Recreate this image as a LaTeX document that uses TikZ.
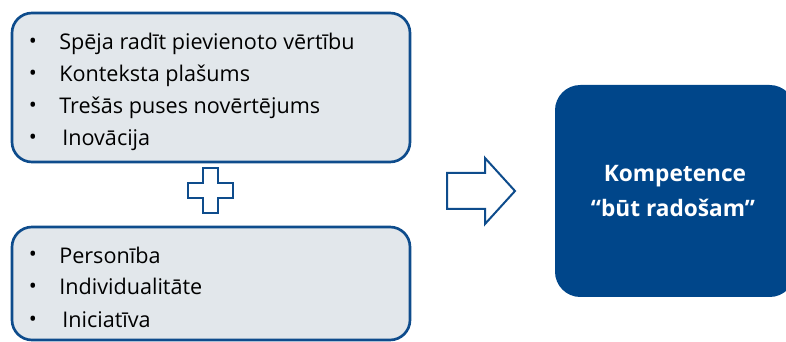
\documentclass[tikz,border=0pt]{standalone}
\usepackage{fontspec}
\setmainfont{Open Sans}
\usetikzlibrary{shapes.arrows}
\definecolor{frameblue}{HTML}{0E4C8C}
\definecolor{panelgray}{HTML}{E2E7EB}
\definecolor{deepblue}{HTML}{00468A}
\tikzset{
  panel/.style={draw=frameblue, line width=2pt, fill=panelgray, rounded corners=15pt},
  item/.style={anchor=base west, inner sep=0pt, font=\fontsize{16.2}{18}\selectfont},
  dot/.style={anchor=base, inner sep=0pt, font=\fontsize{16}{18}\selectfont},
  outline/.style={draw=frameblue, line width=1.5pt, fill=white},
  title/.style={anchor=base, text=white, inner sep=0pt, font=\bfseries\fontsize{17}{20}\selectfont},
}
\begin{document}
\begin{tikzpicture}[x=0.75pt, y=-0.75pt]
\useasboundingbox (0,0) rectangle (786,342);
% two rounded panels
\path[panel] (12,13) rectangle (410,162);
\path[panel] (12,227) rectangle (410,340);
% upper list
\foreach \yy/\xx/\txt [count=\i] in {50/59/{Spēja radīt pievienoto vērtību},82/59/{Konteksta plašums},114/59/{Trešās puses novērtējums},146/62/{Inovācija}}{
  \node[dot] (ua\i) at (33,\yy-1) {•};
  \node[item] (ut\i) at (\xx,\yy) {\txt};
}
% lower list
\foreach \yy/\xx/\txt [count=\i] in {263/59/{Personība},295/59/{Individualitāte},327/62/{Iniciatīva}}{
  \node[dot] (la\i) at (33,\yy-1) {•};
  \node[item] (lt\i) at (\xx,\yy) {\txt};
}
% plus sign
\path[outline] (203,168) -- (218,168) -- (218,183) -- (233,183) -- (233,198) -- (218,198)
  -- (218,213) -- (203,213) -- (203,198) -- (188,198) -- (188,183) -- (203,183) -- cycle;
% hollow arrow
\path[outline] (447,173) -- (485,173) -- (485,158) -- (515,191) -- (485,224) -- (485,209)
  -- (447,209) -- cycle;
% result box
\path[fill=deepblue, rounded corners=19pt] (555,85) rectangle (795,297);
\node[title] (res1) at (675,182) {Kompetence};
\node[title] (res2) at (673,217) {“būt radošam”};
\end{tikzpicture}
\end{document}
